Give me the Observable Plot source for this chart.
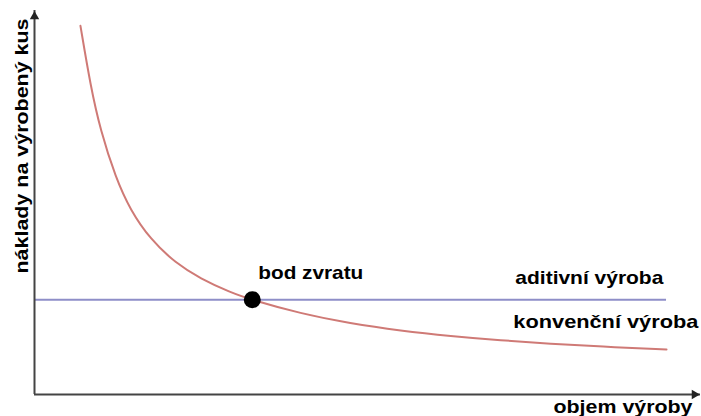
<!DOCTYPE html>
<html><head><meta charset="utf-8">
<script src="https://cdn.jsdelivr.net/npm/d3@7"></script>
<script src="https://cdn.jsdelivr.net/npm/@observablehq/plot@0.6"></script>
<style>body{margin:0;background:#fff}</style>
</head><body><div id="chart"></div>
<script>
// objem výroby (relative units 0–100)
const volume = [6.9, 8.4, 9.9, 12.2, 14.4, 17.4, 21.2, 24.9, 29.4, 32.7, 39.9, 47.4, 55.0, 62.5, 70.0, 77.5, 85.0, 94.9];
// náklady na výrobený kus – konvenční výroba (relative units 0–100)
const conventionalCost = [96.0, 80.5, 68.8, 56.4, 48.0, 40.4, 34.2, 30.2, 26.6, 24.6, 21.1, 18.5, 16.6, 15.2, 14.1, 13.2, 12.5, 11.7];
// aditivní výroba – constant cost
const additiveCost = 24.7;
const additiveRange = [0, 94.9];
// bod zvratu
const breakEven = [{x: 32.7, y: 24.7}];

const labels = [
  {text: "bod zvratu", x: 33.6, y: 30.2},
  {text: "aditivní výroba", x: 72.2, y: 28.9},
  {text: "konvenční výroba", x: 71.9, y: 17.4}
];
const xTitle = "objem výroby";
const yTitle = "náklady na výrobený kus";

const conventional = volume.map((v, i) => ({x: v, y: conventionalCost[i]}));

const font = "Liberation Sans, Arial, sans-serif";
const plot = Plot.plot({
  width: 701,
  height: 416,
  marginLeft: 34,
  marginRight: 1,
  marginTop: 10,
  marginBottom: 22,
  x: {domain: [0, 100], axis: null},
  y: {domain: [0, 100], axis: null},
  style: {background: "#fff", fontFamily: font, overflow: "visible"},
  marks: [
    Plot.ruleY([additiveCost], {x1: additiveRange[0], x2: additiveRange[1], stroke: "#8e8ec8", strokeWidth: 2}),
    Plot.line(conventional, {x: "x", y: "y", curve: "basis", stroke: "#cf7a76", strokeWidth: 2}),
    Plot.ruleX([0], {stroke: "#444", strokeWidth: 2}),
    Plot.ruleY([0], {stroke: "#444", strokeWidth: 2}),
    Plot.dot([{x: 0, y: 100}], {x: "x", y: "y", symbol: "triangle", r: 3.5, fill: "#222", dy: 6}),
    Plot.dot([{x: 100, y: 0}], {x: "x", y: "y", symbol: "triangle", r: 3.5, fill: "#222", dx: -6, rotate: 90}),
    Plot.dot(breakEven, {x: "x", y: "y", r: 8.5, fill: "#000"}),
    Plot.text(labels, {x: "x", y: "y", text: "text", textAnchor: "start", lineAnchor: "bottom", fontSize: 19, fontWeight: "bold", fill: "#000"}),
    Plot.text([xTitle], {frameAnchor: "bottom-right", textAnchor: "end", lineAnchor: "bottom", dx: -8, dy: 18, fontSize: 19, fontWeight: "bold", fill: "#000"}),
    Plot.text([yTitle], {frameAnchor: "top-left", rotate: -90, textAnchor: "end", lineAnchor: "bottom", dx: -7, dy: 8, fontSize: 19, fontWeight: "bold", fill: "#000"})
  ]
});
document.getElementById("chart").appendChild(plot);

const lengths = {"bod zvratu": 105, "aditivní výroba": 148, "konvenční výroba": 185, "objem výroby": 139, "náklady na výrobený kus": 255};
d3.select(plot).selectAll("text").each(function () {
  const t = this.textContent;
  if (lengths[t]) {
    this.setAttribute("textLength", lengths[t]);
    this.setAttribute("lengthAdjust", "spacingAndGlyphs");
  }
});
</script>
</body></html>
